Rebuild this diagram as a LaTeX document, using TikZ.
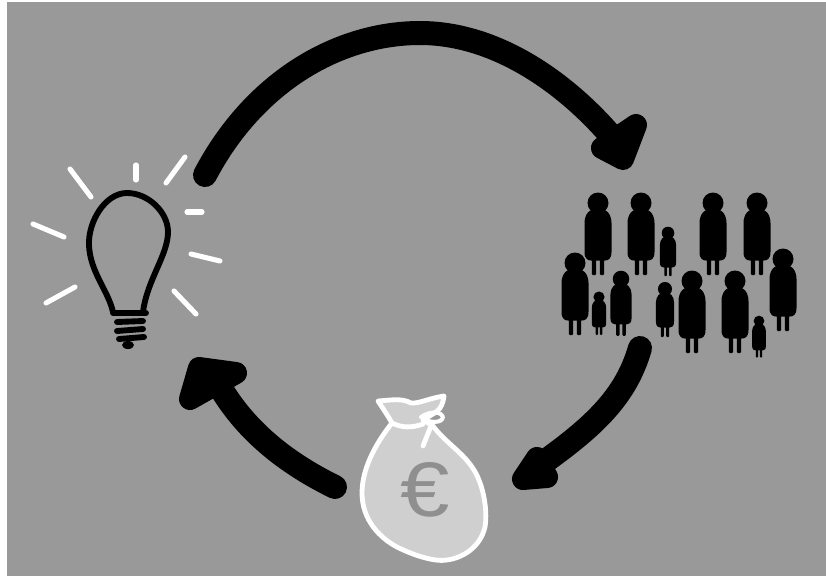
\documentclass[tikz,border=0pt]{standalone}
\usepackage{fontspec}
\usepackage{xcolor}
\usepackage{tikz}
\setmainfont{Liberation Sans}
\definecolor{cyclegrey}{HTML}{999999}
\definecolor{baggrey}{HTML}{CFCFCF}
\definecolor{eurogrey}{HTML}{8F8F8F}

\begin{document}
\begin{tikzpicture}[
    x=0.75pt, y=-0.75pt,
    flow/.style={black, line width=18pt, line cap=round},
    flowhead/.style={fill=black, draw=black, line width=16.5pt, line join=round},
    ray/.style={white, line width=3.8pt, line cap=round},
    bulbline/.style={black, line width=4.4pt, line cap=round, line join=round},
    bagline/.style={white, line width=3.6pt, line cap=round, line join=round},
    pics/person/.style={code={
        \fill[black] (0,0) circle (10.5);
        \fill[black] (-13.5,49) .. controls (-13.5,56) and (-10,57.5) .. (-7,57.5)
            -- (7,57.5) .. controls (10,57.5) and (13.5,56) .. (13.5,49)
            -- (13.5,20) .. controls (13.5,11) and (8,5) .. (0,5)
            .. controls (-8,5) and (-13.5,11) .. (-13.5,20) -- cycle;
        \fill[black, rounded corners=0.8pt] (-6.2,55) rectangle (-1.8,72);
        \fill[black, rounded corners=0.8pt] (1.8,55) rectangle (6.2,72);
    }},
]
    \useasboundingbox (0,0) rectangle (826,576);
    \fill[cyclegrey] (7,2) rectangle (826,576);

    % Arrow ends
    \coordinate (bulbout) at (205,175);
    \coordinate (crowdin) at (617,143);
    \coordinate (crowdout) at (640,348);
    \coordinate (bagin) at (530,472);
    \coordinate (bagout) at (335,487);
    \coordinate (bulbin) at (215,378);

    % Arrows
    \draw[flow] (bulbout) .. controls (255,80) and (340,33) .. (420,33)
        .. controls (500,33) and (572,88) .. (crowdin);
    \draw[flowhead] (636,125) -- (623,159) -- (602,148) -- cycle;
    \draw[flow] (crowdout) .. controls (625,400) and (590,430) .. (bagin);
    \draw[flowhead] (537,458) -- (547,477) -- (523,479) -- cycle;
    \draw[flow] (bagout) .. controls (280,460) and (240,425) .. (bulbin);
    \draw[flowhead] (199,368) -- (236,373) -- (190,399) -- cycle;

    % Light bulb
    \draw[bulbline] (113,312) .. controls (108,290) and (90,272) .. (89,245)
        .. controls (88,222) and (105,193) .. (127,193)
        .. controls (148,193) and (168,212) .. (168,232)
        .. controls (168,255) and (147,280) .. (143,312);
    \draw[bulbline] (113,313) -- (146,313);
    \draw[bulbline] (117,322) -- (143,321);
    \draw[bulbline] (117,331) -- (143,329);
    \draw[bulbline] (119,339) -- (144,337);
    \fill[black] (128,345) ellipse (6 and 4);

    % Rays
    \foreach \xa/\ya/\xb/\yb in {70/169/91/197, 136/165/136/180, 185/157/166/183,
        187/212/202/212, 191/254/220/261, 174/291/196/314, 75/287/46/303,
        33/224/64/237}
        \draw[ray] (\xa,\ya) -- (\xb,\yb);

    % Crowd
    \foreach \x/\y/\s in {598/203/1, 641/203/1, 713/203/1, 757/203/1, 783/259/1,
        575/263/1, 692/281/1, 735/281/1, 621/279/0.79, 665/289/0.67,
        668/233/0.6, 599/297/0.53, 759/321/0.51}
        \pic[scale=\s] at (\x,\y) {person};

    % Money bag
    \draw[bagline, fill=baggrey] (392,423) .. controls (380,438) and (362,465) .. (362,493)
        .. controls (362,520) and (380,538) .. (397,547)
        .. controls (415,556) and (435,562) .. (447,560)
        .. controls (462,558) and (480,548) .. (485,527)
        .. controls (488,510) and (483,482) .. (472,467)
        .. controls (462,452) and (445,442) .. (433,426)
        -- (423,420) .. controls (435,412) and (442,412) .. (444,396)
        .. controls (430,398) and (418,404) .. (411,403)
        .. controls (402,398) and (392,400) .. (378,401)
        .. controls (384,410) and (388,416) .. (392,423)
        .. controls (402,428) and (412,428) .. (423,424);
    \draw[bagline, line width=3pt] (421,417) .. controls (428,412) and (440,410) .. (443,417)
        .. controls (442,424) and (428,423) .. (421,417);
    \draw[bagline] (431,426) -- (423,446);
    \node[font=\fontsize{58}{58}\selectfont, text=eurogrey, inner sep=0pt, xscale=1.15] (euro) at (425,490) {€};
\end{tikzpicture}
\end{document}
